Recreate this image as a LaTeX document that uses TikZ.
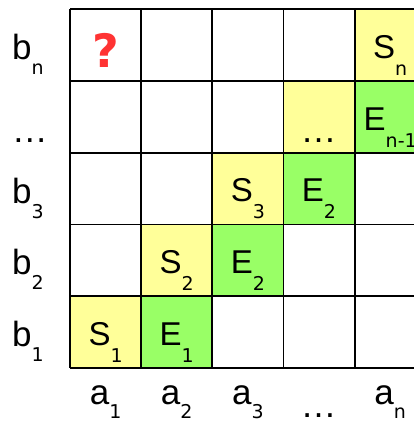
\documentclass[tikz,border=0pt]{standalone}
\usepackage{fontspec}
\setmainfont{Liberation Sans}
\newfontfamily\subfont{DejaVu Sans}
\newfontfamily\qfont{DejaVu Sans}
\definecolor{cellyellow}{HTML}{FFFF99}
\definecolor{cellgreen}{HTML}{99FF66}
\definecolor{qred}{HTML}{FF3333}
\newcommand\celltxt[2]{{\fontsize{33}{33}\selectfont #1}\raisebox{-17pt}{\subfont\fontsize{19}{19}\selectfont #2}}
\newcommand\axtxt[3]{{\fontsize{35}{35}\selectfont #1}\raisebox{-#3}{\subfont\fontsize{19}{19}\selectfont #2}}
\begin{document}
\begin{tikzpicture}[x=1pt,y=-1pt,
  gridline/.style={line width=1.8pt,black},
  txt/.style={inner sep=0pt,anchor=base},
  ybox/.style={fill=cellyellow},
  gbox/.style={fill=cellgreen}]
\useasboundingbox (0,0) rectangle (414,421);
\fill[white] (0,0) rectangle (414,421);
\begin{scope}
\clip (0,0) rectangle (414,421);
% column edges: 70,141.2,212.3,283.5,354.6,425.8 ; rows: 9,80.8,152.6,224.4,296.2,368
\fill[ybox] (354.6,9) rectangle (425.8,80.8);
\fill[ybox] (283.5,80.8) rectangle (354.6,152.6);
\fill[gbox] (354.6,80.8) rectangle (425.8,152.6);
\fill[ybox] (212.3,152.6) rectangle (283.5,224.4);
\fill[gbox] (283.5,152.6) rectangle (354.6,224.4);
\fill[ybox] (141.2,224.4) rectangle (212.3,296.2);
\fill[gbox] (212.3,224.4) rectangle (283.5,296.2);
\fill[ybox] (70,296.2) rectangle (141.2,368);
\fill[gbox] (141.2,296.2) rectangle (212.3,368);
\foreach \x in {70,141.2,212.3,283.5,354.6,425.8}
  \draw[gridline] (\x,9) -- (\x,368);
\foreach \y in {9,80.8,152.6,224.4,296.2,368}
  \draw[gridline] (70,\y) -- (425.8,\y);
\end{scope}
% question mark
\node[txt,text=qred] (q) at (105.6,67) {\qfont\bfseries\fontsize{46}{46}\selectfont ?};
% cell labels
\node[txt] (sn) at (390.2,58.8) {\celltxt{S}{n}};
\node[txt] (dd) at (318.5,142) {\fontsize{36}{36}\selectfont …};
\node[txt] (enm) at (390.2,130.1) {\celltxt{E}{n-1}};
\node[txt] (s3) at (247.9,201.9) {\celltxt{S}{3}};
\node[txt] (e2a) at (319,201.9) {\celltxt{E}{2}};
\node[txt] (s2) at (176.7,273.7) {\celltxt{S}{2}};
\node[txt] (e2b) at (247.9,273.7) {\celltxt{E}{2}};
\node[txt] (s1) at (105.6,345.5) {\celltxt{S}{1}};
\node[txt] (e1) at (176.7,345.5) {\celltxt{E}{1}};
% row labels
\node[txt] (bn) at (28,59.3) {\axtxt{b}{n}{15pt}};
\node[txt] (bd) at (30,142.5) {\fontsize{36}{36}\selectfont …};
\node[txt] (b3) at (28,203.1) {\axtxt{b}{3}{15pt}};
\node[txt] (b2) at (28,274.9) {\axtxt{b}{2}{15pt}};
\node[txt] (b1) at (28,346.7) {\axtxt{b}{1}{15pt}};
% column labels
\node[txt] (a1) at (105.6,404.5) {\axtxt{a}{1}{14pt}};
\node[txt] (a2) at (176.7,404.5) {\axtxt{a}{2}{14pt}};
\node[txt] (a3) at (247.9,404.5) {\axtxt{a}{3}{14pt}};
\node[txt] (ad) at (318.5,417) {\fontsize{36}{36}\selectfont …};
\node[txt] (an) at (390.2,404.5) {\axtxt{a}{n}{14pt}};
\end{tikzpicture}
\end{document}
